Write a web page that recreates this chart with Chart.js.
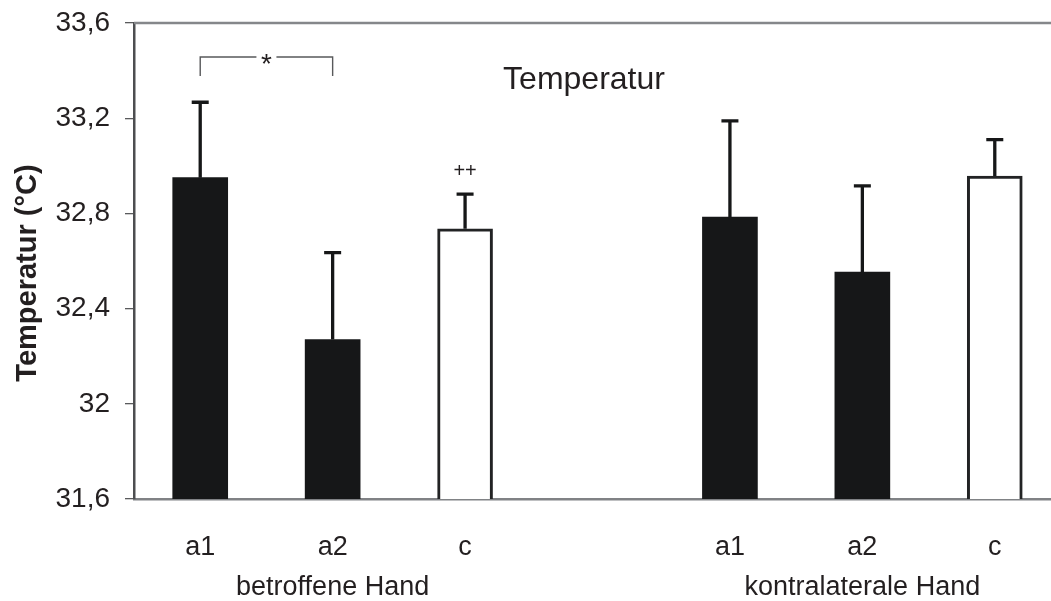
<!DOCTYPE html>
<html>
<head>
<meta charset="utf-8">
<script src="https://cdn.jsdelivr.net/npm/chart.js@4.4.1/dist/chart.umd.min.js"></script>
<style>
  html, body { margin: 0; padding: 0; background: #fff; overflow: hidden; }
  #wrap { width: 1051px; height: 601px; overflow: hidden; }
</style>
</head>
<body>
<div id="wrap"><canvas id="grafico" width="1061" height="601"></canvas></div>
<script>
// dados
const categorias = ["a1", "a2", "c", "", "a1", "a2", "c"];
const grupos = ["", "betroffene Hand", "", "", "", "kontralaterale Hand", ""];
const medias = [32.95, 32.27, 32.735, null, 32.785, 32.553, 32.957];
const erros = [0.317, 0.365, 0.146, null, 0.404, 0.363, 0.153];
const cheio = [true, true, false, null, true, true, false];
const marcas = ["", "", "++", "", "", "", ""];
const yTicks = [31.6, 32, 32.4, 32.8, 33.2, 33.6];
const sigPar = [0, 1];
const sigNivel = [33.377, 33.457]; // pernas / topo do colchete
const titulo = "Temperatur";
const tituloY = "Temperatur (°C)";

const corTexto = "#231f20";
const fonte = "'Liberation Sans', Arial, sans-serif";

const labels = categorias.map((c, i) => grupos[i] ? [c, grupos[i]] : c);

// extras: borda superior, barras de erro, textos
const extras = {
  id: "extras",
  afterDatasetsDraw(chart) {
    const { ctx, chartArea: ca, scales: { y } } = chart;
    const barras = chart.getDatasetMeta(0).data;
    ctx.save();

    // linha superior
    ctx.strokeStyle = "#85878a";
    ctx.lineWidth = 2.5;
    ctx.beginPath();
    ctx.moveTo(ca.left, ca.top);
    ctx.lineTo(ca.right, ca.top);
    ctx.stroke();

    // barras de erro
    ctx.strokeStyle = "#161718";
    ctx.lineWidth = 3.3;
    medias.forEach((m, i) => {
      if (m == null) return;
      const bx = barras[i].x;
      const y0 = y.getPixelForValue(m);
      const y1 = y.getPixelForValue(m + erros[i]);
      ctx.beginPath();
      ctx.moveTo(bx, y0);
      ctx.lineTo(bx, y1);
      ctx.moveTo(bx - 8.5, y1);
      ctx.lineTo(bx + 8.5, y1);
      ctx.stroke();

      if (marcas[i]) {
        ctx.fillStyle = corTexto;
        ctx.font = "20px " + fonte;
        ctx.textAlign = "center";
        ctx.textBaseline = "middle";
        ctx.fillText(marcas[i], bx, y1 - 23);
      }
    });

    // colchete de significancia
    const xa = barras[sigPar[0]].x, xb = barras[sigPar[1]].x;
    const yp = y.getPixelForValue(sigNivel[0]);
    const yt = y.getPixelForValue(sigNivel[1]);
    const xm = (xa + xb) / 2;
    ctx.strokeStyle = "#58595b";
    ctx.lineWidth = 1.4;
    ctx.beginPath();
    ctx.moveTo(xa, yp); ctx.lineTo(xa, yt); ctx.lineTo(xm - 10, yt);
    ctx.moveTo(xm + 10, yt); ctx.lineTo(xb, yt); ctx.lineTo(xb, yp);
    ctx.stroke();
    ctx.fillStyle = corTexto;
    ctx.font = "28px " + fonte;
    ctx.textAlign = "center";
    ctx.textBaseline = "alphabetic";
    ctx.fillText("*", xm, yt + 16);

    // titulo dentro do grafico
    ctx.font = "32px " + fonte;
    ctx.textBaseline = "middle";
    ctx.fillText(titulo, 584, 80);

    // titulo do eixo y
    ctx.translate(28, 273);
    ctx.rotate(-Math.PI / 2);
    ctx.font = "bold 29px " + fonte;
    ctx.fillText(tituloY, 0, 0);

    ctx.restore();
  }
};

const ctx = document.getElementById("grafico").getContext("2d");
new Chart(ctx, {
  type: "bar",
  data: {
    labels,
    datasets: [{
      data: medias,
      backgroundColor: cheio.map(c => c ? "#161718" : "#ffffff"),
      borderColor: "#222324",
      borderWidth: cheio.map(c => c ? 0 : 3),
      borderSkipped: false,
      barThickness: 55
    }]
  },
  options: {
    responsive: false,
    animation: false,
    layout: { padding: { top: 23, left: 0, right: 0, bottom: 0 } },
    plugins: { legend: { display: false }, tooltip: { enabled: false }, title: { display: false } },
    scales: {
      x: {
        afterFit: s => { s.height = 102; s.paddingLeft = 0; s.paddingRight = 0; },
        grid: { drawOnChartArea: false, drawTicks: false },
        border: { display: true, color: "#808285", width: 2.5 },
        ticks: {
          color: corTexto,
          font: { family: fonte, size: 27, lineHeight: 1.5 },
          padding: 28,
          maxRotation: 0,
          autoSkip: false
        }
      },
      y: {
        min: 31.6,
        max: 33.6,
        afterFit: s => { s.width = 134; s.paddingTop = 0; s.paddingBottom = 0; },
        afterBuildTicks: s => { s.ticks = yTicks.map(v => ({ value: v })); },
        grid: { drawOnChartArea: false, drawTicks: true, tickLength: 9, color: "#5a5b5d", lineWidth: 1.3 },
        border: { display: true, color: "#4d4e50", width: 2.5 },
        ticks: {
          color: corTexto,
          font: { family: fonte, size: 28 },
          padding: 15,
          callback: v => String(Number(v.toFixed(1))).replace(".", ",")
        }
      }
    }
  },
  plugins: [extras]
});
</script>
</body>
</html>
